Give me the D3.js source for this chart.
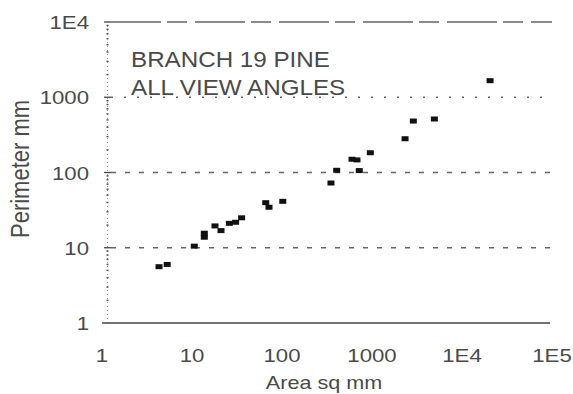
<!DOCTYPE html>
<html>
<head>
<meta charset="utf-8">
<script src="https://cdn.jsdelivr.net/npm/d3@7"></script>
<style>
	body	{ margin:0; background:#fff; }
	text	{ font-family:"Liberation Sans", Arial, sans-serif; fill:#4a4a4a; }
</style>
</head>
<body>
<div id="chart"></div>
<script>
// values (area sq mm, perimeter mm)
var	area	= [4.3, 5.3, 10.6, 13.7, 13.7, 18, 21, 26, 30.5, 35.6, 66, 71.7, 102, 350, 405, 600, 681, 722, 958, 2330, 2880, 4930, 20500],
	perim	= [5.6, 6.0, 10.5, 13.8, 15.6, 19.5, 16.9, 21.1, 21.8, 25, 39.7, 34.5, 41.4, 72.5, 107, 150, 147, 106, 183, 281, 483, 514, 1660],
	xTicks	= [1, 10, 100, 1000, 1e4, 1e5],
	xLabels	= ["1", "10", "100", "1000", "1E4", "1E5"],
	yTicks	= [1, 10, 100, 1000, 1e4],
	yLabels	= ["1", "10", "100", "1000", "1E4"],
	title	= ["BRANCH 19 PINE", "ALL VIEW ANGLES"];

var	W = 573, H = 394,
	margin	= {top: 22, right: 21, bottom: 71, left: 102},
	x	= d3.scaleLog().domain([1, 1e5]).range([margin.left, W - margin.right]),
	y	= d3.scaleLog().domain([1, 1e4]).range([H - margin.bottom, margin.top]);

var svg = d3.select("#chart").append("svg").attr("width", W).attr("height", H);

// the scan is stretched sideways, so text gets a horizontal scale
function label(sel, fx, fy, size, sx) {
	return sel.attr("transform", function(d, i) {
		return "translate(" + fx(d, i) + "," + fy(d, i) + ") scale(" + sx + ",1)";
	}).attr("font-size", size);
}

// minor ticks on y axis drawn as dots
var minor = [];
yTicks.slice(0, -1).forEach(function(t) {
	for (var k = 2; k < 10; k++) minor.push(t * k);
});
svg.append("line").attr("x1", 107.5).attr("x2", 107.5)
	.attr("y1", y(1e4)).attr("y2", y(1))
	.attr("stroke", "#999").attr("stroke-width", 1).attr("stroke-dasharray", "1,3");
svg.selectAll(".minor").data(minor).enter().append("rect").attr("class", "minor")
	.attr("x", 106.5).attr("width", 2).attr("height", 1.5)
	.attr("y", function(d) { return y(d) - 0.75; })
	.attr("fill", "#555");

// grid lines
svg.selectAll(".tick").data(yTicks.slice(1)).enter().append("line").attr("class", "tick")
	.attr("x1", 104).attr("x2", 111)
	.attr("y1", function(d) { return y(d); }).attr("y2", function(d) { return y(d); })
	.attr("stroke", "#444").attr("stroke-width", 1.3);
svg.selectAll(".grid").data(yTicks.slice(1, -1)).enter().append("line").attr("class", "grid")
	.attr("x1", 111).attr("x2", x(1e5))
	.attr("y1", function(d) { return y(d); }).attr("y2", function(d) { return y(d); })
	.attr("stroke", "#666").attr("stroke-width", 1.3)
	.attr("stroke-dasharray", function(d) { return d == 1000 ? "2,11" : "5,9"; });
svg.append("line").attr("x1", 111).attr("x2", x(1e5)).attr("y1", y(1e4)).attr("y2", y(1e4))
	.attr("stroke", "#666").attr("stroke-width", 1.3).attr("stroke-dasharray", "50,6,20,8");
svg.append("line").attr("x1", x(1)).attr("x2", x(1e5) - 2).attr("y1", y(1)).attr("y2", y(1))
	.attr("stroke", "#444").attr("stroke-width", 1.5);

// tick labels
label(svg.selectAll(".ylab").data(yTicks).enter().append("text").attr("class", "ylab"),
	function() { return 89; }, function(d) { return y(d) + 7; }, 18.5, 1.2)
	.attr("text-anchor", "end")
	.text(function(d, i) { return yLabels[i]; });
label(svg.selectAll(".xlab").data(xTicks).enter().append("text").attr("class", "xlab"),
	function(d) { return x(d); }, function() { return 362; }, 18.5, 1.2)
	.attr("text-anchor", "middle")
	.text(function(d, i) { return xLabels[i]; });

// axis titles
svg.append("text").attr("transform", "translate(324,389) scale(1.2,1)").attr("text-anchor", "middle")
	.attr("font-size", 18).text("Area sq mm");
svg.append("text").attr("transform", "translate(29,169) scale(1.2,1) rotate(-90)").attr("text-anchor", "middle")
	.attr("font-size", 22).text("Perimeter mm");

// annotation
label(svg.selectAll(".title").data(title).enter().append("text").attr("class", "title"),
	function() { return 131; }, function(d, i) { return 67 + i * 28; }, 22, 1.1)
	.text(function(d) { return d; });

// points
svg.selectAll(".pt").data(area).enter().append("rect").attr("class", "pt")
	.attr("x", function(d) { return x(d) - 3.5; })
	.attr("y", function(d, i) { return y(perim[i]) - 2.5; })
	.attr("width", 7).attr("height", 5).attr("fill", "#111");
</script>
</body>
</html>
